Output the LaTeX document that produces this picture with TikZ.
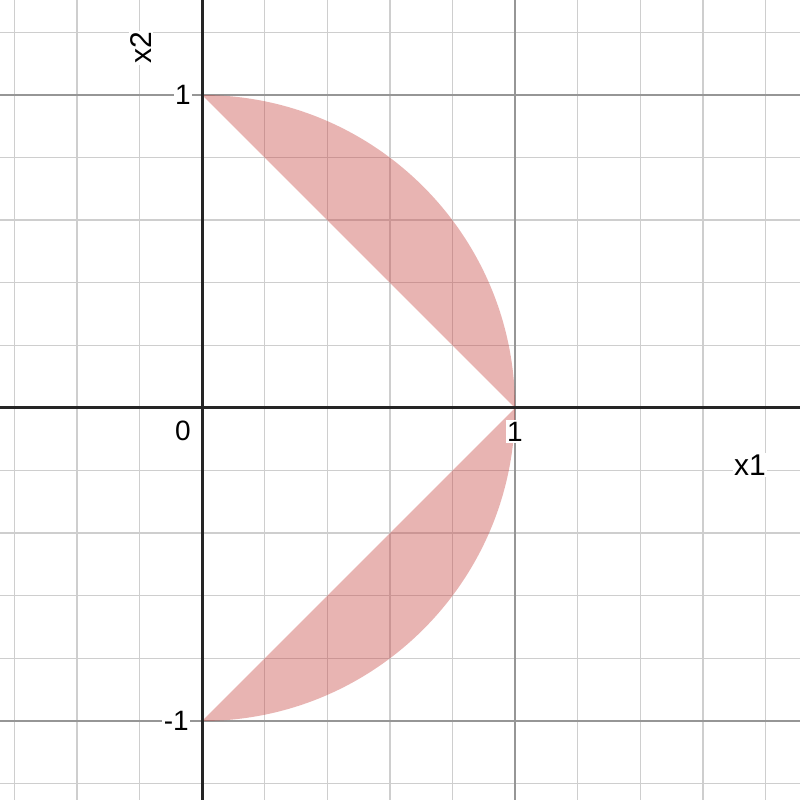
\documentclass[tikz,border=0pt]{standalone}
\usepackage{fontspec}
\setmainfont{Liberation Sans}
\usetikzlibrary{positioning}
\definecolor{gridminor}{RGB}{206,206,206}
\definecolor{gridmajor}{RGB}{150,150,150}
\definecolor{axisdark}{RGB}{37,37,37}
\definecolor{regionred}{RGB}{199,68,64}

\begin{document}
\begin{tikzpicture}[x=313pt,y=313pt,
  minorline/.style={gridminor,line width=1.4pt},
  majorline/.style={gridmajor,line width=1.8pt},
  axisline/.style={axisdark,line width=3pt},
  region/.style={fill=regionred,fill opacity=0.4},
  ticklabel/.style={fill=white,inner sep=1.5pt,font=\fontsize{28}{28}\selectfont},
  axislabel/.style={fill=white,inner sep=1.5pt,font=\fontsize{30}{30}\selectfont}]
\useasboundingbox (-0.6454,-1.2524) rectangle (1.9105,1.3035);
\fill[white] (-0.6454,-1.2524) rectangle (1.9105,1.3035);
% grid
\foreach \g in {-3,...,9}
  \draw[minorline] (\g/5,-1.2524) -- (\g/5,1.3035);
\foreach \g in {-6,...,6}
  \draw[minorline] (-0.6454,\g/5) -- (1.9105,\g/5);
\draw[majorline] (1,-1.2524) -- (1,1.3035);
\foreach \g in {-1,1}
  \draw[majorline] (-0.6454,\g) -- (1.9105,\g);
% shaded region
\fill[region] (0,1) arc[start angle=90,end angle=0,radius=1] -- cycle;
\fill[region] (0,-1) arc[start angle=-90,end angle=0,radius=1] -- cycle;
% axes
\draw[axisline] (-0.6454,0) -- (1.9105,0);
\draw[axisline] (0,-1.2524) -- (0,1.3035);
% labels
\node[ticklabel] (ytop) at (-0.061,1) {1};
\node[ticklabel] (ybot) at (-0.082,-1) {-1};
\node[ticklabel] (orig) at (-0.061,-0.072) {0};
\node[ticklabel] (xone) at (1,-0.075) {1};
\node[axislabel] (xlab) at (1.751,-0.182) {x1};
\node[axislabel,rotate=90] (ylab) at (-0.196,1.150) {x2};
\end{tikzpicture}
\end{document}
